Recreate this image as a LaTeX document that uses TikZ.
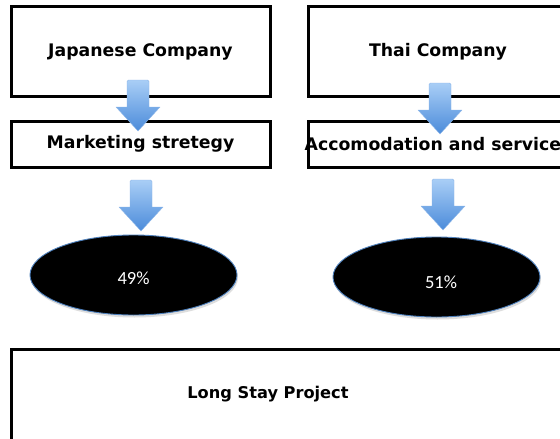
\documentclass[tikz,border=0pt]{standalone}
\usepackage{fontspec}
\setmainfont{DejaVu Sans}
\newfontfamily\pctfont{Carlito}
\usetikzlibrary{shapes.geometric}
\definecolor{arrowtop}{HTML}{A9CEF6}
\definecolor{arrowbot}{HTML}{4B8BDA}
\definecolor{arrowedge}{HTML}{8DB6E8}
\definecolor{ovaledge}{HTML}{4F81BD}
\tikzset{
  box/.style={draw=black, line width=3pt, fill=white, inner sep=0pt,
    font=\bfseries\fontsize{17.3}{20}\selectfont},
  label/.style={font=\bfseries\fontsize{17.3}{20}\selectfont, inner sep=0pt},
  oval/.style={ellipse, draw=ovaledge, line width=0.9pt, fill=black,
    minimum width=207pt, minimum height=80pt, inner sep=0pt},
  pct/.style={text=white, font=\pctfont\fontsize{18.5}{21}\selectfont, inner sep=0pt},
  blockarrow/.style={top color=arrowtop, bottom color=arrowbot, draw=arrowedge, line width=0.4pt, line join=round}
}
% shaded block arrow pointing down; #1 = top centre
\newcommand{\downarrowblock}[1]{%
  \path[blockarrow] (#1) ++(-11,0) [rounded corners=1.5pt] -- ++(22,0) [sharp corners] -- ++(0,27)
    -- ++(11,0) -- ++(-22,24) -- ++(-22,-24) -- ++(11,0) [rounded corners=1.5pt] -- cycle;}
\begin{document}
\begin{tikzpicture}[x=1pt, y=-1pt]
  \useasboundingbox (0,0) rectangle (560,439);
  \fill[white] (0,0) rectangle (560,439);

  % top row: companies
  \node[box, minimum width=259pt, minimum height=90pt] (jp) at (140.5,51.5) {Japanese Company};
  \node[box, minimum width=259pt, minimum height=90pt] (th) at (438,51.5) {Thai Company};

  % second row: contributions
  \node[box, minimum width=259pt, minimum height=46pt] (mk) at (140.5,144) {Marketing stretegy};
  \node[box, minimum width=259pt, minimum height=46pt] (ac) at (438,144) {};
  \node[label] (actext) at (ac.center) {Accomodation and services};

  % shares
  \fill[black!25, opacity=0.5] (134.5,277.5) ellipse [x radius=103.5pt, y radius=40pt];
  \node[oval] (p49) at (133.5,275) {};
  \node[pct] at (133.5,278) {49\%};
  \fill[black!25, opacity=0.5] (437.5,279.5) ellipse [x radius=103.5pt, y radius=40pt];
  \node[oval] (p51) at (436.5,277) {};
  \node[pct] at (441,282) {51\%};

  % joint venture
  \draw[line width=3pt] (600,349.5) -- (11.5,349.5) -- (11.5,470);
  \node[label, font=\bfseries\fontsize{16.2}{19}\selectfont] (ls) at (268,394) {Long Stay Project};

  % flow arrows
  \coordinate (a1) at (138,80);
  \coordinate (a2) at (440,83);
  \coordinate (a3) at (141,180);
  \coordinate (a4) at (443,179);
  \downarrowblock{a1}
  \downarrowblock{a2}
  \downarrowblock{a3}
  \downarrowblock{a4}
\end{tikzpicture}
\end{document}
